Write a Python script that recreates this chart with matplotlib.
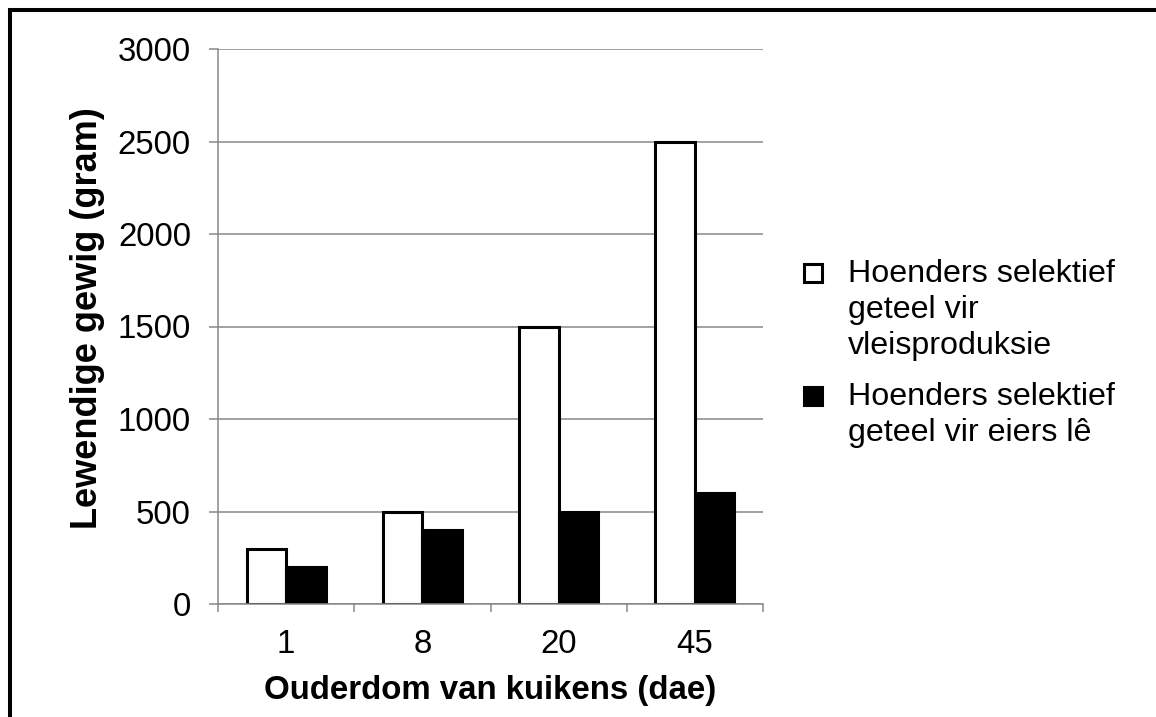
import matplotlib
matplotlib.use("Agg")
import matplotlib.pyplot as plt
import numpy as np
from matplotlib.patches import Rectangle
from matplotlib.lines import Line2D

categories = ["1", "8", "20", "45"]
meat = [300, 500, 1500, 2500]
eggs = [200, 400, 500, 600]
yticks = [0, 500, 1000, 1500, 2000, 2500, 3000]
series_labels = ["Hoenders selektief\ngeteel vir\nvleisproduksie",
                 "Hoenders selektief\ngeteel vir eiers lê"]
series_colors = ['white', 'black']
xlabel = "Ouderdom van kuikens (dae)"
ylabel = "Lewendige gewig (gram)"

plt.rcParams['font.family'] = ['Liberation Sans', 'DejaVu Sans']
FS = 23.8
YLFS = 26
LFS = 23.2
GRAY = '#878787'
W, H = 1156, 717
fig = plt.figure(figsize=(W / 100, H / 100), dpi=100)
ax = fig.add_axes([218 / W, 1 - 604 / H, (763 - 218) / W, (604 - 49) / H])

x = np.arange(len(categories))
bw = 0.29
ax.bar(x - bw / 2, meat, bw, color=series_colors[0], edgecolor='black', lw=2.2, zorder=3,
       label=series_labels[0])
ax.bar(x + bw / 2, eggs, bw, color=series_colors[1], edgecolor='black', lw=2.2, zorder=3,
       label=series_labels[1])

ax.set_xlim(-0.5, len(categories) - 0.5)
ax.set_ylim(0, 3000)
ax.set_yticks(yticks)
ax.set_yticklabels([str(v) for v in yticks], fontsize=FS)
ax.yaxis.grid(True, color=GRAY, lw=1.1)
ax.set_axisbelow(True)

ax.set_xticks(x)
ax.set_xticklabels(categories, fontsize=FS)
ax.set_xticks(np.arange(len(categories) + 1) - 0.5, minor=True)
ax.tick_params(axis='x', which='major', length=0, pad=18)
ax.tick_params(axis='x', which='minor', length=5.8, width=1.1, color=GRAY, direction='out')
ax.tick_params(axis='y', which='major', length=6.5, width=1.1, color=GRAY, direction='out', pad=13)

for s in ['top', 'right']:
    ax.spines[s].set_visible(False)
for s in ['left', 'bottom']:
    ax.spines[s].set_color(GRAY)
    ax.spines[s].set_linewidth(1.1)
ax.spines['bottom'].set_zorder(4)

ax.set_xlabel(xlabel, fontsize=FS, fontweight='bold', labelpad=11)
ax.set_ylabel(ylabel, fontsize=YLFS, fontweight='bold', labelpad=9)
ax.yaxis.label.set_y(0.515)

# legend (drawn manually so the marker sits on the first text line)
leg_items = [(263, series_colors[0]), (386, series_colors[1])]
for (ytop, col), lab in zip(leg_items, series_labels):
    fig.patches.append(Rectangle((804 / W, 1 - (ytop + 19) / H), 18 / W, 18 / H,
                                 transform=fig.transFigure, facecolor=col,
                                 edgecolor='black', lw=2.2))
    fig.text(848 / W, 1 - (ytop - 4) / H, lab, fontsize=LFS, ha='left', va='top',
             linespacing=1.27)

# figure border (top and left)
fig.add_artist(Line2D([10 / W, 10 / W], [0, 1 - 10 / H], color='black', lw=2.9,
                      transform=fig.transFigure, solid_capstyle='projecting'))
fig.add_artist(Line2D([10 / W, 1], [1 - 10 / H, 1 - 10 / H], color='black', lw=2.9,
                      transform=fig.transFigure, solid_capstyle='projecting'))

fig.savefig("out.png", dpi=100, facecolor='white')
